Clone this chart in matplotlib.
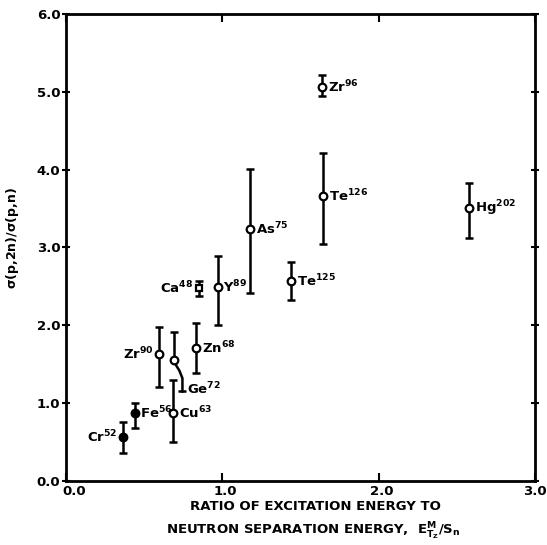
import matplotlib
matplotlib.use("Agg")
import matplotlib.pyplot as plt
import matplotlib.transforms as mtransforms

plt.rcParams['font.family'] = ['DejaVu Sans']
plt.rcParams['font.weight'] = 'bold'
plt.rcParams['mathtext.default'] = 'bf'

# ---- data ----
names = ["Cr", "Fe", "Cu", "Ge", "Zr", "Zn", "Ca", "Y", "As", "Te", "Te", "Zr", "Hg"]
masses = ["52", "56", "63", "72", "90", "68", "48", "89", "75", "125", "126", "96", "202"]
x_vals = [0.365, 0.44, 0.685, 0.69, 0.595, 0.835, 0.85, 0.97, 1.18, 1.44, 1.645, 1.64, 2.58]
y_vals = [0.565, 0.87, 0.87, 1.55, 1.63, 1.71, 2.48, 2.49, 3.24, 2.57, 3.66, 5.06, 3.51]
y_hi = [0.76, 1.00, 1.30, 1.92, 1.98, 2.03, 2.57, 2.89, 4.01, 2.81, 4.22, 5.22, 3.83]
y_lo = [0.36, 0.68, 0.50, 1.55, 1.21, 1.39, 2.38, 2.00, 2.42, 2.33, 3.04, 4.94, 3.12]
filled = [True, True, False, False, False, False, False, False, False, False, False, False, False]
marker = ["o", "o", "o", "o", "o", "o", "s", "o", "o", "o", "o", "o", "o"]
label_side = ["left", "right", "right", "below", "left", "right", "left", "right", "right", "right", "right", "right", "right"]

# displaced lower error bar of Ge72 (leader)
ge_leader_x = [0.70, 0.725, 0.745, 0.745]
ge_leader_y = [1.50, 1.42, 1.32, 1.15]

x_ticks = [0.0, 1.0, 2.0, 3.0]
x_ticklabels = ["0.0", "1.0", "2.0", "3.0"]
y_ticks = [0.0, 1.0, 2.0, 3.0, 4.0, 5.0, 6.0]
y_ticklabels = ["0.0", "1.0", "2.0", "3.0", "4.0", "5.0", "6.0"]

fig = plt.figure(figsize=(5.47, 5.45), dpi=100)
ax = fig.add_axes([0.1207, 0.1174, 0.857, 0.857])

for i in range(len(names)):
    lo = y_vals[i] - y_lo[i]
    hi = y_hi[i] - y_vals[i]
    ax.errorbar([x_vals[i]], [y_vals[i]], yerr=[[lo], [hi]], fmt='none',
                ecolor='black', elinewidth=1.8, capsize=3.2, capthick=1.8, zorder=2)
    ms = 5.5 if marker[i] == "o" else 5
    ax.plot([x_vals[i]], [y_vals[i]], marker=marker[i], ms=ms,
            mfc='black' if filled[i] else 'white', mec='black', mew=1.6,
            linestyle='none', zorder=3)
    lab = r'%s$^{%s}$' % (names[i], masses[i])
    if label_side[i] == "right":
        ax.annotate(lab, (x_vals[i], y_vals[i]), xytext=(4, 0), textcoords='offset points',
                    ha='left', va='center', fontsize=9.5, fontweight='bold')
    elif label_side[i] == "left":
        ax.annotate(lab, (x_vals[i], y_vals[i]), xytext=(-4, 0), textcoords='offset points',
                    ha='right', va='center', fontsize=9.5, fontweight='bold')
    else:
        ax.annotate(lab, (ge_leader_x[-1], ge_leader_y[-1]), xytext=(3, 2), textcoords='offset points',
                    ha='left', va='center', fontsize=9.5, fontweight='bold')

ax.plot(ge_leader_x, ge_leader_y, color='black', lw=1.8, zorder=2)
ax.plot([ge_leader_x[-1]], [ge_leader_y[-1]], marker='_', ms=6.4, mew=1.8, color='black')

ax.set_xlim(0, 3)
ax.set_ylim(0, 6)
ax.set_xticks(x_ticks)
ax.set_yticks(y_ticks)
ax.set_xticklabels(x_ticklabels, fontsize=9.5, fontweight='bold')
ax.set_yticklabels(y_ticklabels, fontsize=9.5, fontweight='bold')
ax.tick_params(axis='x', direction='in', length=6, width=1.5, top=True, pad=3)
ax.tick_params(axis='y', direction='inout', length=6, width=1.5, right=True, pad=1)
for s in ax.spines.values():
    s.set_linewidth(2)

# shift x tick labels slightly right as in the reference
shifts = [8, 3, 3, 0]
for k, t in enumerate(ax.get_xticklabels()):
    t.set_transform(t.get_transform() + mtransforms.ScaledTranslation(shifts[k] / 100, 0, fig.dpi_scale_trans))

ax.set_ylabel(r'$\sigma$(p,2n)/$\sigma$(p,n)', fontsize=9, fontweight='bold', labelpad=4)
ax.yaxis.set_label_coords(-0.095, 0.52)
fig.text(0.576, 1 - 506 / 545, "RATIO OF EXCITATION ENERGY TO", ha='center', va='center',
         fontsize=9.5, fontweight='bold')
fig.text(0.572, 1 - 531 / 545, r"NEUTRON SEPARATION ENERGY,  $E^{M}_{T_Z}$/S$_n$", ha='center', va='center',
         fontsize=9.5, fontweight='bold')

fig.savefig("out.png", dpi=100)
